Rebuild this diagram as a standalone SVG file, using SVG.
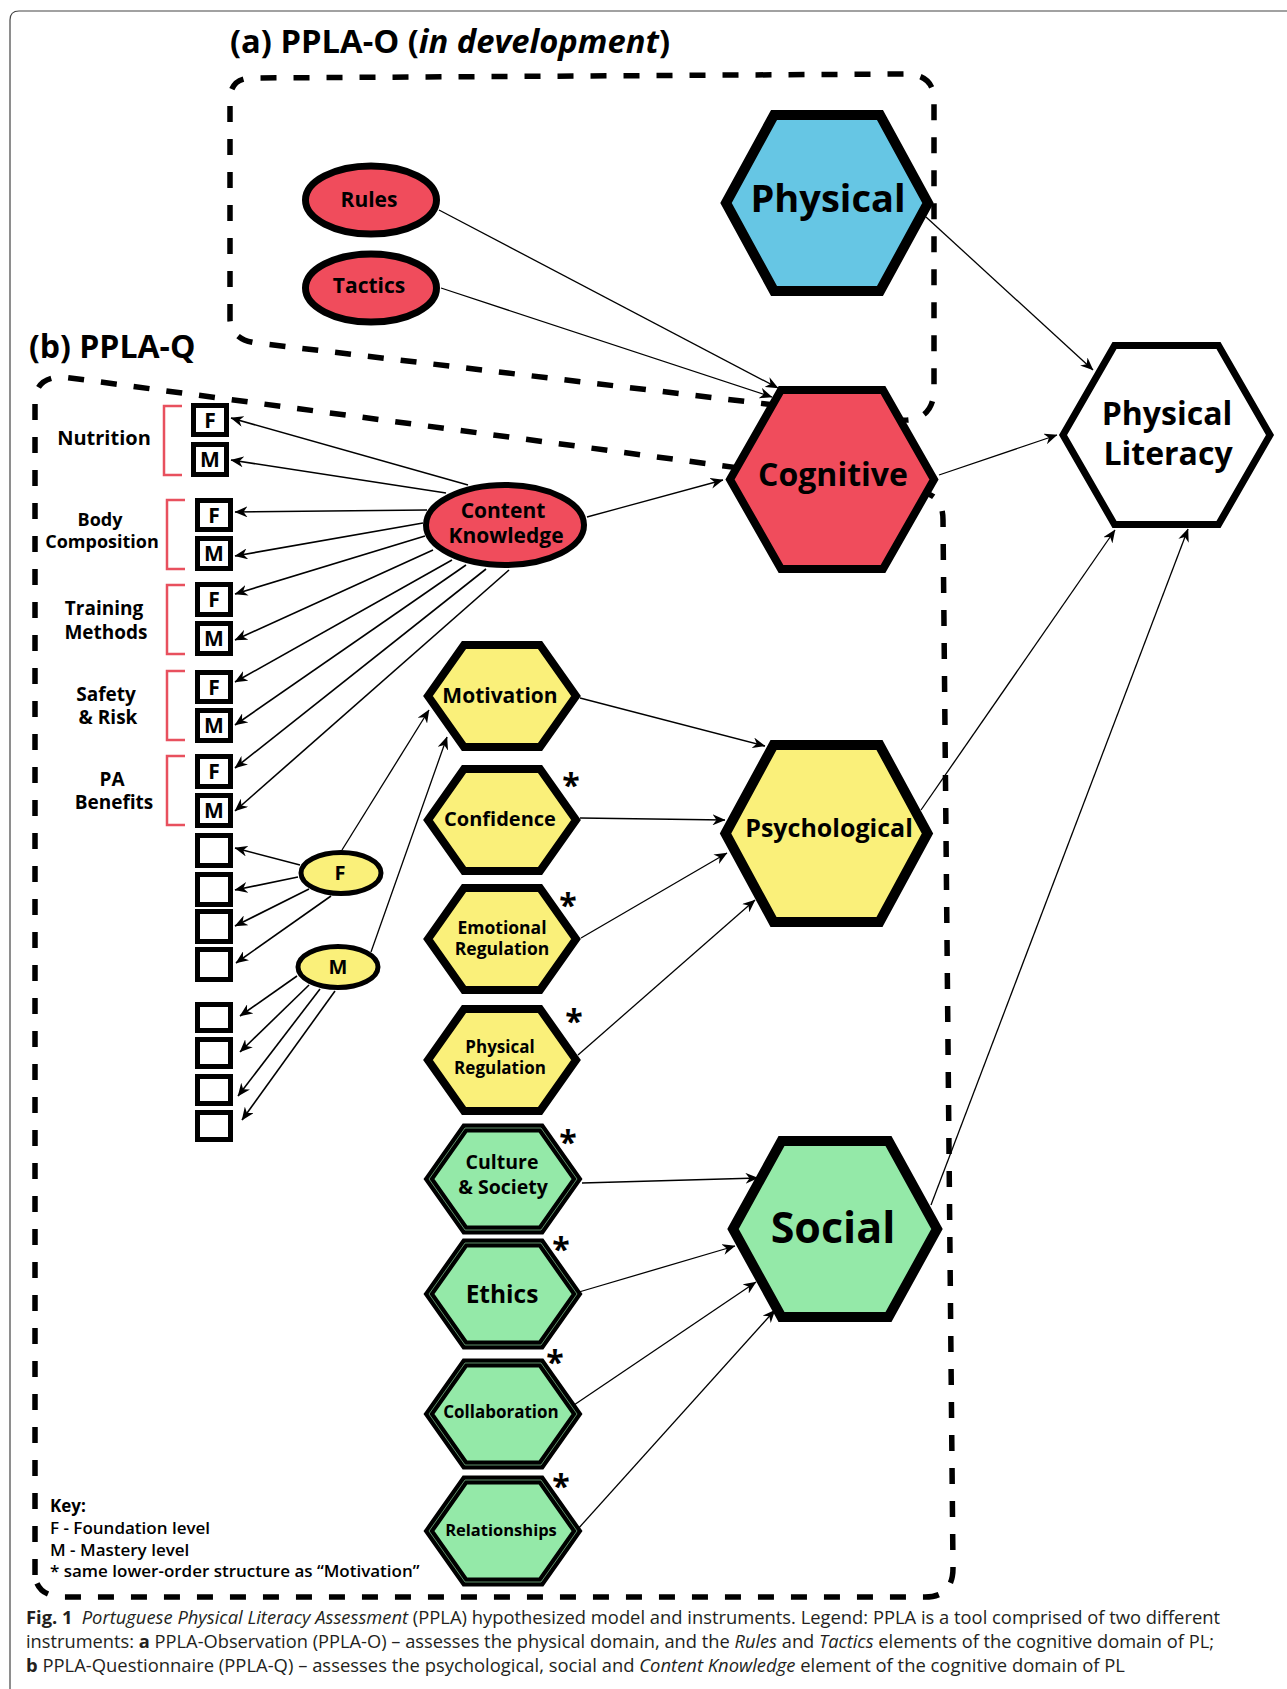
<svg xmlns="http://www.w3.org/2000/svg" width="1287" height="1689" viewBox="0 0 1287 1689">
<style>
.t{font-family:"Open Sans","Noto Sans","DejaVu Sans",sans-serif;font-weight:700;fill:#000;text-anchor:middle}
.k{font-family:"Open Sans","Noto Sans","DejaVu Sans",sans-serif;font-weight:600;fill:#000;font-size:17px}
.cap{font-family:"Open Sans","Liberation Sans",sans-serif;font-weight:400;fill:#231f20;font-size:18px}
.dash{fill:none;stroke:#000;stroke-width:5.5;stroke-dasharray:16 17}
.hexY{fill:#FAF07A;stroke:#000;stroke-width:8}
.hexG{fill:#94E9A8;stroke:#000;stroke-width:9}
.hexGi{fill:none;stroke:#5f8f6a;stroke-width:1}
.box{fill:#fff;stroke:#000;stroke-width:5}
.br{fill:none;stroke:#E8505E;stroke-width:2.5}
.c{fill:none;stroke:#000;stroke-width:1.3;marker-end:url(#ah)}
.ck{fill:none;stroke:#000;stroke-width:1.6;marker-end:url(#ah)}
.ast{font-family:"Open Sans","Noto Sans",sans-serif;font-weight:700;font-size:32px;text-anchor:middle}
</style>
<defs>
<marker id="ah" markerUnits="userSpaceOnUse" markerWidth="13" markerHeight="11" viewBox="0 0 13 11" refX="12.5" refY="5.5" orient="auto">
<path d="M0,0 L13,5.5 L0,11 L4,5.5 Z" fill="#000"/>
</marker>
</defs>
<rect x="0" y="0" width="1287" height="1689" fill="#fff"/>
<path d="M10,1689 V20 Q10,11 19,11 H1287" fill="none" stroke="#444" stroke-width="1.2"/>

<g id="titles">
<text class="t" x="230" y="53" font-size="32" style="text-anchor:start" textLength="440" lengthAdjust="spacingAndGlyphs">(a) PPLA-O (<tspan font-style="italic">in development</tspan>)</text>
<text class="t" x="29" y="358" font-size="32" style="text-anchor:start">(b) PPLA-Q</text>
</g>

<g id="boxes-dashed">
<path class="dash" d="M230,320 L230,100 Q230,78 252,78 L905,74 Q934,74 934,100 L934,392 Q932,422 900,420 L257,343 Q232,340 230,320 Z"/>
<path class="dash" d="M35,1575 L35,402 Q35,377 63,377 L925,493 Q943,497 943,520 L953,1568 Q953,1597 925,1597 L65,1597 Q37,1597 35,1575 Z"/>
</g>

<g id="brackets">
<path class="br" d="M182,406 H164 V475 H182"/>
<path class="br" d="M185,500 H167 V569 H185"/>
<path class="br" d="M185,585 H167 V654 H185"/>
<path class="br" d="M185,671 H167 V740 H185"/>
<path class="br" d="M185,756 H167 V825 H185"/>
</g>

<g id="labels">
<text class="t" x="104" y="445" font-size="20">Nutrition</text>
<text class="t" x="100" y="526" font-size="18">Body</text>
<text class="t" x="102" y="548" font-size="18">Composition</text>
<text class="t" x="104" y="615" font-size="19">Training</text>
<text class="t" x="106" y="639" font-size="19">Methods</text>
<text class="t" x="106" y="701" font-size="19">Safety</text>
<text class="t" x="108" y="724" font-size="19">&amp; Risk</text>
<text class="t" x="112" y="786" font-size="19">PA</text>
<text class="t" x="114" y="809" font-size="19">Benefits</text>
</g>

<g id="connectors">
<line class="ck" x1="468" y1="485" x2="231" y2="418"/>
<line class="ck" x1="446" y1="493" x2="231" y2="460"/>
<line class="ck" x1="427" y1="510" x2="235" y2="512"/>
<line class="ck" x1="423" y1="523" x2="235" y2="556"/>
<line class="ck" x1="425" y1="536" x2="235" y2="594"/>
<line class="ck" x1="433" y1="550" x2="235" y2="640"/>
<line class="ck" x1="452" y1="560" x2="235" y2="682"/>
<line class="ck" x1="466" y1="565" x2="235" y2="725"/>
<line class="ck" x1="486" y1="569" x2="235" y2="768"/>
<line class="ck" x1="509" y1="570" x2="235" y2="811"/>
<line class="ck" x1="300" y1="865" x2="235" y2="848"/>
<line class="ck" x1="298" y1="877" x2="235" y2="890"/>
<line class="ck" x1="309" y1="889" x2="235" y2="926"/>
<line class="ck" x1="331" y1="896" x2="236" y2="963"/>
<line class="c" x1="342" y1="850" x2="429" y2="710"/>
<line class="c" x1="371" y1="952" x2="447" y2="737"/>
<line class="ck" x1="297" y1="976" x2="240" y2="1016"/>
<line class="ck" x1="309" y1="985" x2="240" y2="1052"/>
<line class="ck" x1="320" y1="989" x2="238" y2="1096"/>
<line class="ck" x1="335" y1="991" x2="242" y2="1120"/>
<line class="c" x1="587" y1="517" x2="723" y2="480"/>
<line class="c" x1="439" y1="210" x2="778" y2="388"/>
<line class="c" x1="441" y1="288" x2="772" y2="397"/>
<line class="c" x1="926" y1="217" x2="1093" y2="370"/>
<line class="c" x1="939" y1="475" x2="1057" y2="435"/>
<line class="c" x1="921" y1="810" x2="1115" y2="530"/>
<line class="c" x1="931" y1="1205" x2="1188" y2="529"/>
<line class="c" x1="580" y1="698" x2="765" y2="746"/>
<line class="c" x1="580" y1="818" x2="725" y2="820"/>
<line class="c" x1="581" y1="938" x2="727" y2="853"/>
<line class="c" x1="578" y1="1055" x2="755" y2="900"/>
<line class="c" x1="582" y1="1183" x2="758" y2="1178"/>
<line class="c" x1="579" y1="1292" x2="735" y2="1246"/>
<line class="c" x1="574" y1="1405" x2="756" y2="1282"/>
<line class="c" x1="577" y1="1530" x2="775" y2="1310"/>
</g>

<g id="level-boxes">
<rect class="box" x="193.5" y="405.5" width="33" height="29"/><text class="t" x="210" y="427.5" font-size="21">F</text>
<rect class="box" x="193.5" y="444.5" width="33" height="30"/><text class="t" x="210" y="467" font-size="21">M</text>
<rect class="box" x="197.5" y="500.5" width="33" height="29"/><text class="t" x="214" y="522.5" font-size="21">F</text>
<rect class="box" x="197.5" y="538.5" width="33" height="30"/><text class="t" x="214" y="561" font-size="21">M</text>
<rect class="box" x="197.5" y="584.5" width="33" height="30"/><text class="t" x="214" y="607" font-size="21">F</text>
<rect class="box" x="197.5" y="623.5" width="33" height="30"/><text class="t" x="214" y="646" font-size="21">M</text>
<rect class="box" x="197.5" y="672.5" width="33" height="29"/><text class="t" x="214" y="694.5" font-size="21">F</text>
<rect class="box" x="197.5" y="710.5" width="33" height="30"/><text class="t" x="214" y="733" font-size="21">M</text>
<rect class="box" x="197.5" y="756.5" width="33" height="30"/><text class="t" x="214" y="779" font-size="21">F</text>
<rect class="box" x="197.5" y="795.5" width="33" height="30"/><text class="t" x="214" y="818" font-size="21">M</text>
<rect class="box" x="197.5" y="835.5" width="33" height="30"/>
<rect class="box" x="197.5" y="874.5" width="33" height="30"/>
<rect class="box" x="197.5" y="911.5" width="33" height="30"/>
<rect class="box" x="197.5" y="949.5" width="33" height="30"/>
<rect class="box" x="197.5" y="1004.5" width="33" height="26"/>
<rect class="box" x="197.5" y="1039.5" width="33" height="27"/>
<rect class="box" x="197.5" y="1076.5" width="33" height="27"/>
<rect class="box" x="197.5" y="1112.5" width="33" height="27"/>
</g>

<g id="node-rules"><ellipse cx="371" cy="200" rx="65.5" ry="34" fill="#F04C5C" stroke="#000" stroke-width="7"/><text class="t" x="369" y="207" font-size="21">Rules</text></g>
<g id="node-tactics"><ellipse cx="371" cy="288" rx="65.5" ry="34" fill="#F04C5C" stroke="#000" stroke-width="7"/><text class="t" x="369" y="293" font-size="21">Tactics</text></g>
<g id="node-content-knowledge"><ellipse cx="505" cy="525" rx="79" ry="40" fill="#F04C5C" stroke="#000" stroke-width="6"/><text class="t" x="503" y="518" font-size="21">Content</text><text class="t" x="506" y="543" font-size="21">Knowledge</text></g>
<g id="node-F"><ellipse cx="341" cy="873" rx="40" ry="20.5" fill="#FAF07A" stroke="#000" stroke-width="5"/><text class="t" x="340" y="880" font-size="20">F</text></g>
<g id="node-M"><ellipse cx="338" cy="967" rx="40" ry="20.5" fill="#FAF07A" stroke="#000" stroke-width="5"/><text class="t" x="338" y="974" font-size="20">M</text></g>

<g id="node-physical"><polygon points="726,203 774,115 880,115 928,203 880,291 774,291" fill="#66C6E4" stroke="#000" stroke-width="10"/><text class="t" x="828" y="212" font-size="38">Physical</text></g>
<g id="node-cognitive"><polygon points="730,479.5 781,390 883,390 934,479.5 883,569 781,569" fill="#F04C5C" stroke="#000" stroke-width="8"/><text class="t" x="833" y="486" font-size="32">Cognitive</text></g>
<g id="node-physical-literacy"><polygon points="1063,435 1114.5,345.5 1218.5,345.5 1270,435 1218.5,524.5 1114.5,524.5" fill="#fff" stroke="#000" stroke-width="7"/><text class="t" x="1167" y="425" font-size="32">Physical</text><text class="t" x="1168" y="465" font-size="32">Literacy</text></g>
<g id="node-psychological"><polygon points="725.5,833.5 773.5,745 879.5,745 927.5,833.5 879.5,922 773.5,922" fill="#FAF07A" stroke="#000" stroke-width="10"/><text class="t" x="829" y="837" font-size="25">Psychological</text></g>
<g id="node-social"><polygon points="733,1229 781.5,1141 888.5,1141 937,1229 888.5,1317 781.5,1317" fill="#94E9A8" stroke="#000" stroke-width="10"/><text class="t" x="833" y="1243" font-size="43">Social</text></g>

<g id="node-motivation"><polygon class="hexY" points="428,696 464,645 540,645 576,696 540,747 464,747"/><text class="t" x="500" y="703" font-size="21">Motivation</text></g>
<g id="node-confidence"><polygon class="hexY" points="428,820 464,769 540,769 576,820 540,871 464,871"/><text class="t" x="500" y="826" font-size="20">Confidence</text><text class="ast" x="571" y="797">*</text></g>
<g id="node-emotional-regulation"><polygon class="hexY" points="428,939 464,888 540,888 576,939 540,990 464,990"/><text class="t" x="502" y="934" font-size="17.5">Emotional</text><text class="t" x="502" y="955" font-size="17.5">Regulation</text><text class="ast" x="568" y="917">*</text></g>
<g id="node-physical-regulation"><polygon class="hexY" points="428,1060 464,1009 540,1009 576,1060 540,1111 464,1111"/><text class="t" x="500" y="1053" font-size="17">Physical</text><text class="t" x="500" y="1074" font-size="17">Regulation</text><text class="ast" x="574" y="1033">*</text></g>
<g id="node-culture-society"><polygon class="hexG" points="429,1179 465,1128 541,1128 577,1179 541,1230 465,1230"/><polygon class="hexGi" points="429,1179 465,1128 541,1128 577,1179 541,1230 465,1230"/><text class="t" x="502" y="1169" font-size="19.5">Culture</text><text class="t" x="503" y="1194" font-size="19.5">&amp; Society</text><text class="ast" x="568" y="1154">*</text></g>
<g id="node-ethics"><polygon class="hexG" points="429,1294 465,1243 541,1243 577,1294 541,1345 465,1345"/><polygon class="hexGi" points="429,1294 465,1243 541,1243 577,1294 541,1345 465,1345"/><text class="t" x="502" y="1303" font-size="24.5">Ethics</text><text class="ast" x="561" y="1261">*</text></g>
<g id="node-collaboration"><polygon class="hexG" points="429,1414 465,1363 541,1363 577,1414 541,1465 465,1465"/><polygon class="hexGi" points="429,1414 465,1363 541,1363 577,1414 541,1465 465,1465"/><text class="t" x="501" y="1418" font-size="17">Collaboration</text><text class="ast" x="555" y="1374">*</text></g>
<g id="node-relationships"><polygon class="hexG" points="429,1531 465,1480 541,1480 577,1531 541,1582 465,1582"/><polygon class="hexGi" points="429,1531 465,1480 541,1480 577,1531 541,1582 465,1582"/><text class="t" x="501" y="1536" font-size="16.5">Relationships</text><text class="ast" x="561" y="1498">*</text></g>

<g id="key">
<text class="k" x="50" y="1512" style="font-weight:700">Key:</text>
<text class="k" x="50" y="1534">F - Foundation level</text>
<text class="k" x="50" y="1556">M - Mastery level</text>
<text class="k" x="50" y="1577">* same lower-order structure as “Motivation”</text>
</g>

<g id="caption">
<text class="cap" x="26" y="1624" textLength="1194" lengthAdjust="spacingAndGlyphs"><tspan font-weight="700">Fig. 1</tspan><tspan dx="9" font-style="italic">Portuguese Physical Literacy Assessment</tspan> (PPLA) hypothesized model and instruments. Legend: PPLA is a tool comprised of two different</text>
<text class="cap" x="26" y="1648" textLength="1188" lengthAdjust="spacingAndGlyphs">instruments: <tspan font-weight="700">a</tspan> PPLA-Observation (PPLA-O) – assesses the physical domain, and the <tspan font-style="italic">Rules</tspan> and <tspan font-style="italic">Tactics</tspan> elements of the cognitive domain of PL;</text>
<text class="cap" x="26" y="1672" textLength="1099" lengthAdjust="spacingAndGlyphs"><tspan font-weight="700">b</tspan> PPLA-Questionnaire (PPLA-Q) – assesses the psychological, social and <tspan font-style="italic">Content Knowledge</tspan> element of the cognitive domain of PL</text>
</g>
</svg>
